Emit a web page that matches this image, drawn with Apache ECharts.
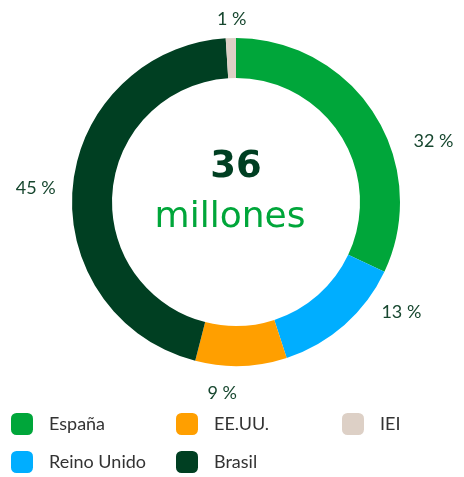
<!DOCTYPE html>
<html>
<head>
<meta charset="utf-8">
<script src="https://cdn.jsdelivr.net/npm/echarts@6/dist/echarts.min.js"></script>
<style>
	html, body { margin: 0; padding: 0; background: #fff; }
	#chart { width: 464px; height: 477px; }
</style>
</head>
<body>
<div id="chart"></div>
<script>
// datos
var paises = ['España', 'Reino Unido', 'EE.UU.', 'Brasil', 'IEI'];
var porcentajes = [32, 13, 9, 45, 1];
var colores = ['#00A63A', '#00AEFF', '#FF9F00', '#003F22', '#DDD0C6'];
var totalTexto = '36';
var unidadTexto = 'millones';

// columnas de la leyenda
var columnas = [['España', 'Reino Unido'], ['EE.UU.', 'Brasil'], ['IEI']];
var columnasX = [11, 176, 342];

// ajuste fino de etiquetas (dx, dy)
var ajustes = [[24, 33], [24, -22], [-39, 15], [0, 3], [21, -7]];

window.onload = function() {
	var chart = echarts.init(document.getElementById('chart'));

	var datos = paises.map(function(p, i) {
		return { name: p, value: porcentajes[i], itemStyle: { color: colores[i] } };
	});

	var leyendas = columnas.map(function(col, i) {
		return {
			orient: 'vertical',
			left: columnasX[i],
			top: 413,
			height: 80,
			padding: 0,
			itemWidth: 22,
			itemHeight: 22,
			itemGap: 16,
			icon: 'roundRect',
			data: col,
			selectedMode: false,
			textStyle: {
				color: '#333333',
				fontSize: 18,
				fontFamily: 'Lato',
				padding: [0, 0, 0, 11]
			}
		};
	});

	var option = {
		animation: false,
		legend: leyendas,
		title: [{
			text: totalTexto,
			left: 236,
			top: 149,
			padding: 0,
			textAlign: 'center',
			textStyle: { color: '#003F22', fontSize: 37, fontWeight: 'bold', fontFamily: 'DejaVu Sans' }
		}, {
			text: unidadTexto,
			left: 230,
			top: 200,
			padding: 0,
			textAlign: 'center',
			textStyle: { color: '#00A63A', fontSize: 36, fontWeight: 'normal', fontFamily: 'DejaVu Sans' }
		}],
		series: [{
			type: 'pie',
			center: [236, 202],
			radius: [124, 164],
			startAngle: 90,
			clockwise: true,
			data: datos,
			label: {
				show: true,
				position: 'outside',
				formatter: '{c} %',
				color: '#17472F',
				fontSize: 18,
				fontFamily: 'Lato'
			},
			labelLine: { show: false, length: 12, length2: 0 },
			labelLayout: function(params) {
				var a = ajustes[params.dataIndex];
				return { dx: a[0], dy: a[1] };
			},
			emphasis: { disabled: true }
		}]
	};

	chart.setOption(option);
};
</script>
</body>
</html>
